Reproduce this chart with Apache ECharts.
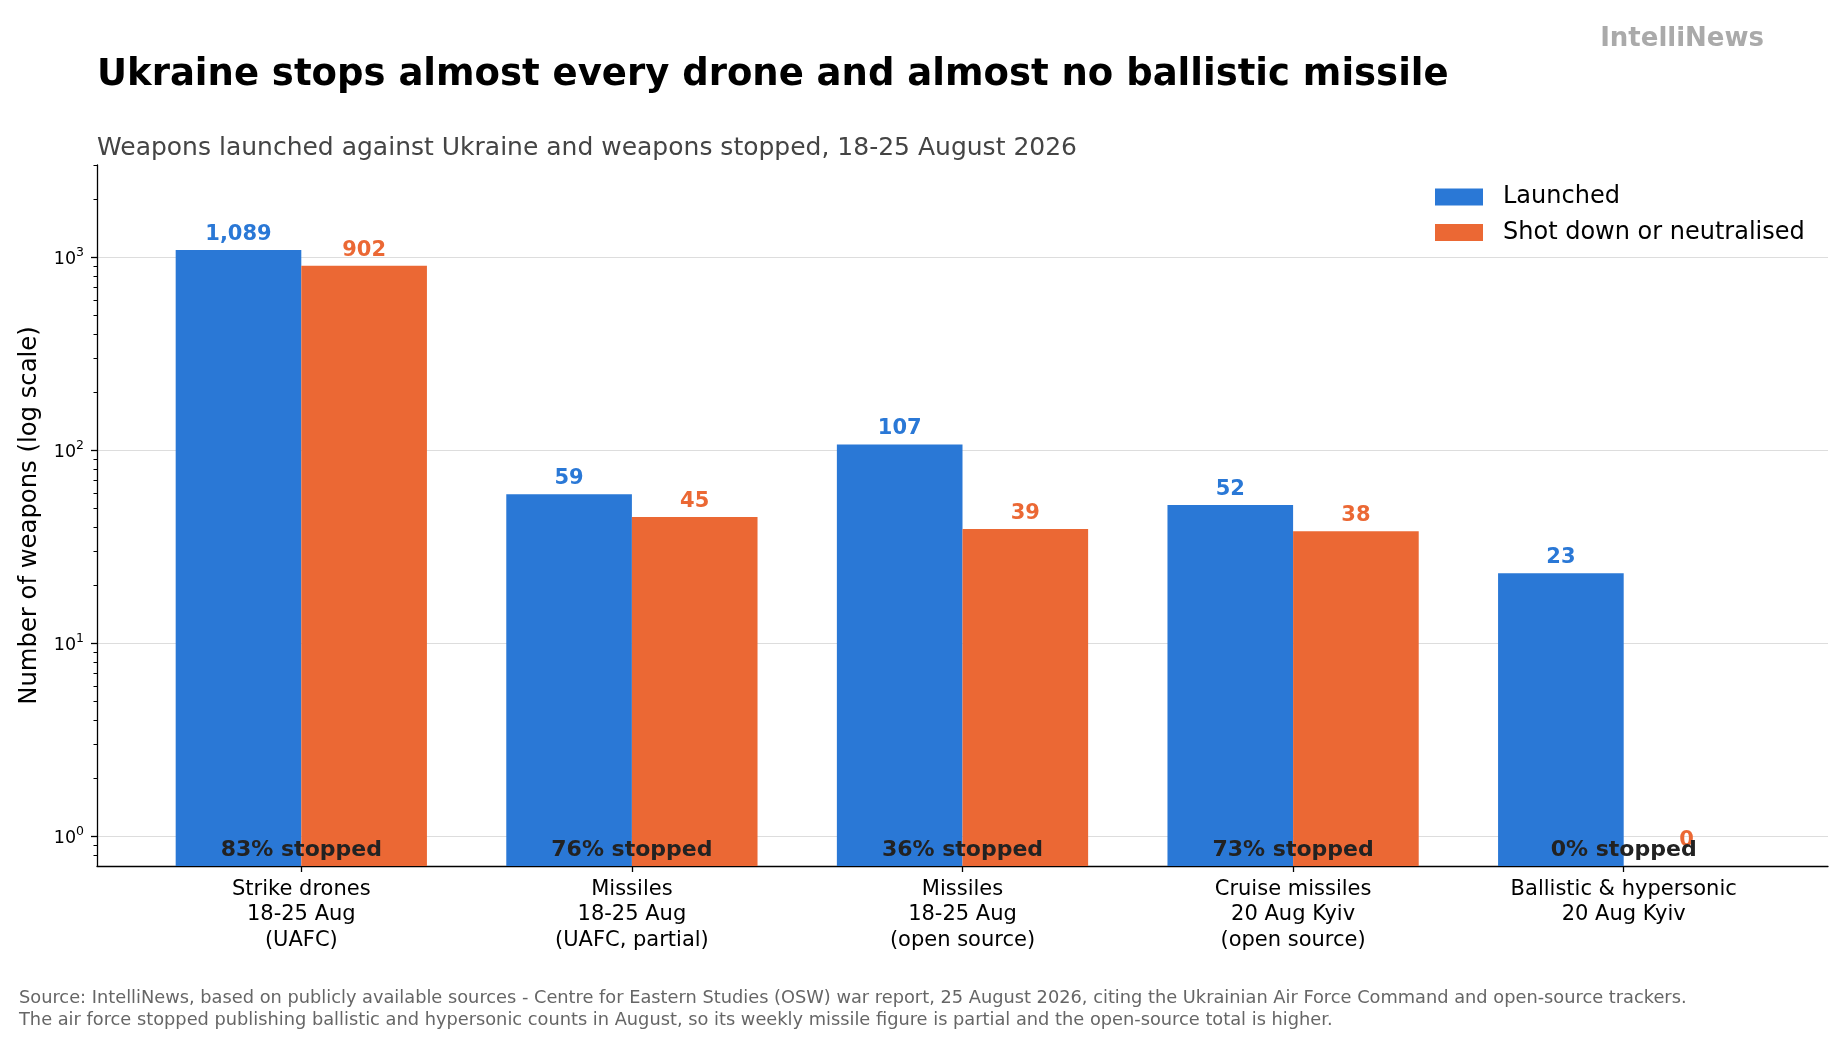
<!DOCTYPE html>
<html><head><meta charset="utf-8">
<script src="https://cdn.jsdelivr.net/npm/echarts@6/dist/echarts.min.js"></script>
<style>html,body{margin:0;padding:0;background:#fff}#c{width:1848px;height:1039px}</style>
</head><body><div id="c"></div>
<script>
// ---- data ----
const categories = [
  'Strike drones\n18-25 Aug\n(UAFC)',
  'Missiles\n18-25 Aug\n(UAFC, partial)',
  'Missiles\n18-25 Aug\n(open source)',
  'Cruise missiles\n20 Aug Kyiv\n(open source)',
  'Ballistic & hypersonic\n20 Aug Kyiv'
];
const launched = [1089, 59, 107, 52, 23];
const shotDown = [902, 45, 39, 38, 0];
const seriesNames = ['Launched', 'Shot down or neutralised'];
const yMajorTicks = [1, 10, 100, 1000];
const yMinorTicks = [0.8, 0.9, 2, 3, 4, 5, 6, 7, 8, 9, 20, 30, 40, 50, 60, 70, 80, 90,
  200, 300, 400, 500, 600, 700, 800, 900, 2000, 3000];
const xTicks = [0, 1, 2, 3, 4];

// ---- style constants ----
const FONT = 'DejaVu Sans';
const BLUE = '#2a78d6', ORANGE = '#eb6834';
const W = 1848, H = 1039;
const G = { left: 97, right: 20, top: 165, bottom: 173 };
const X_MIN = -0.618, X_MAX = 4.618, BAR_W = 0.38;
const Y_MIN = 0.7, Y_MAX = 3000, PCT_Y = 0.845;

const pctData = launched.map((v, i) => [i, PCT_Y, Math.round(shotDown[i] / v * 100) + '% stopped']);

function barSeries(idx, values, color) {
  return {
    name: seriesNames[idx], type: 'custom', xAxisIndex: 0, yAxisIndex: 0,
    itemStyle: { color: color },
    encode: { x: 0, y: 1 },
    data: values.map((v, i) => [i, v]),
    z: 2,
    renderItem: function (params, api) {
      const x = api.value(0), v = api.value(1);
      const x0 = idx === 0 ? x - BAR_W : x;
      const labelStyle = { text: v.toLocaleString('en-US'), fill: color, fontFamily: FONT, fontSize: 21, fontWeight: 'bold' };
      if (!(v > 0)) {
        // a zero cannot be drawn on a log axis: only its label, at the axis baseline value 1
        const c = api.coord([x0 + BAR_W / 2, 1]);
        return { type: 'text', x: c[0], y: c[1] + 4,
          style: Object.assign({ align: 'center', verticalAlign: 'middle' }, labelStyle) };
      }
      const p0 = api.coord([x0, v]);
      const p1 = api.coord([x0 + BAR_W, Y_MIN]);
      return {
        type: 'rect',
        shape: { x: p0[0], y: p0[1], width: p1[0] - p0[0], height: p1[1] - p0[1] },
        style: { fill: color },
        textContent: { style: labelStyle },
        textConfig: { position: 'top', distance: 5 }
      };
    }
  };
}

const chart = echarts.init(document.getElementById('c'), null, { renderer: 'canvas' });
const option = {
  animation: false,
  backgroundColor: '#fff',
  textStyle: { fontFamily: FONT },
  title: [
    { text: 'Ukraine stops almost every drone and almost no ballistic missile', left: 97, top: 56.5, padding: 0,
      textStyle: { fontFamily: FONT, fontSize: 37, fontWeight: 'bold', color: '#000' } },
    { text: 'Weapons launched against Ukraine and weapons stopped, 18-25 August 2026', left: 97, top: 136, padding: 0,
      textStyle: { fontFamily: FONT, fontSize: 25, fontWeight: 'normal', color: '#444' } },
    { text: 'IntelliNews', right: 84, top: 26.5, padding: 0,
      textStyle: { fontFamily: FONT, fontSize: 26, fontWeight: 'bold', color: '#aaaaaa' } },
    { text: 'Source: IntelliNews, based on publicly available sources - Centre for Eastern Studies (OSW) war report, 25 August 2026, citing the Ukrainian Air Force Command and open-source trackers.\nThe air force stopped publishing ballistic and hypersonic counts in August, so its weekly missile figure is partial and the open-source total is higher.',
      left: 19, top: 987, padding: 0,
      textStyle: { fontFamily: FONT, fontSize: 17.8, fontWeight: 'normal', color: '#666', lineHeight: 22.5 } }
  ],
  legend: {
    data: seriesNames,
    orient: 'vertical',
    left: 1435, top: 185,
    padding: 0,
    itemWidth: 48, itemHeight: 17, itemGap: 11.5,
    icon: 'rect',
    textStyle: { fontFamily: FONT, fontSize: 24, color: '#000', padding: [0, 0, 0, 15] }
  },
  grid: [
    { left: G.left, right: G.right, top: G.top, bottom: G.bottom, containLabel: false },
    { left: G.left, right: G.right, top: G.top, bottom: G.bottom, containLabel: false }
  ],
  xAxis: [
    {
      type: 'value', gridIndex: 0, min: X_MIN, max: X_MAX,
      axisLine: { show: true, onZero: false, lineStyle: { color: '#000', width: 1.3 } },
      axisTick: { show: true, customValues: xTicks, length: 6, lineStyle: { color: '#000', width: 1.3 } },
      axisLabel: { show: true, customValues: xTicks, margin: 11, fontFamily: FONT, fontSize: 21, lineHeight: 25.3, color: '#000',
        formatter: v => categories[Math.round(v)] },
      splitLine: { show: false }
    },
    { type: 'value', gridIndex: 1, min: X_MIN, max: X_MAX, show: false }
  ],
  yAxis: [
    {
      type: 'log', logBase: 10, gridIndex: 0, min: Y_MIN, max: Y_MAX,
      name: 'Number of weapons (log scale)', nameLocation: 'middle', nameGap: 55,
      nameTextStyle: { fontFamily: FONT, fontSize: 24.3, color: '#000' },
      axisLine: { show: true, onZero: false, lineStyle: { color: '#000', width: 1.3 } },
      axisTick: { show: true, customValues: yMajorTicks, length: 6, lineStyle: { color: '#000', width: 1.3 } },
      axisLabel: {
        show: true, customValues: yMajorTicks, margin: 13, color: '#000',
        formatter: v => '{b|10}{s|' + Math.round(Math.log10(v)) + '}',
        rich: {
          b: { fontFamily: FONT, fontSize: 17.5, color: '#000', lineHeight: 22, verticalAlign: 'bottom' },
          s: { fontFamily: FONT, fontSize: 12.5, color: '#000', lineHeight: 12, verticalAlign: 'top' }
        }
      },
      splitLine: { show: true, showMinLine: true, showMaxLine: true, lineStyle: { color: '#dddddd', width: 1.2 } },
      minorTick: { show: false }
    },
    {
      type: 'log', logBase: 10, gridIndex: 1, min: Y_MIN, max: Y_MAX, position: 'left',
      axisLine: { show: false, onZero: false },
      axisTick: { show: true, customValues: yMinorTicks, length: 3.5, lineStyle: { color: '#000', width: 1 } },
      axisLabel: { show: false },
      splitLine: { show: false }
    }
  ],
  series: [
    barSeries(0, launched, BLUE),
    barSeries(1, shotDown, ORANGE),
    {
      name: 'pct', type: 'custom', xAxisIndex: 0, yAxisIndex: 0,
      encode: { x: 0, y: 1 },
      data: pctData, z: 4,
      renderItem: function (params, api) {
        const c = api.coord([api.value(0), api.value(1)]);
        return { type: 'text', x: c[0], y: c[1],
          style: { text: pctData[params.dataIndex][2], fill: '#222', fontFamily: FONT, fontSize: 22, fontWeight: 'bold',
            align: 'center', verticalAlign: 'middle' } };
      }
    }
  ]
};
chart.setOption(option);
</script>
</body></html>
